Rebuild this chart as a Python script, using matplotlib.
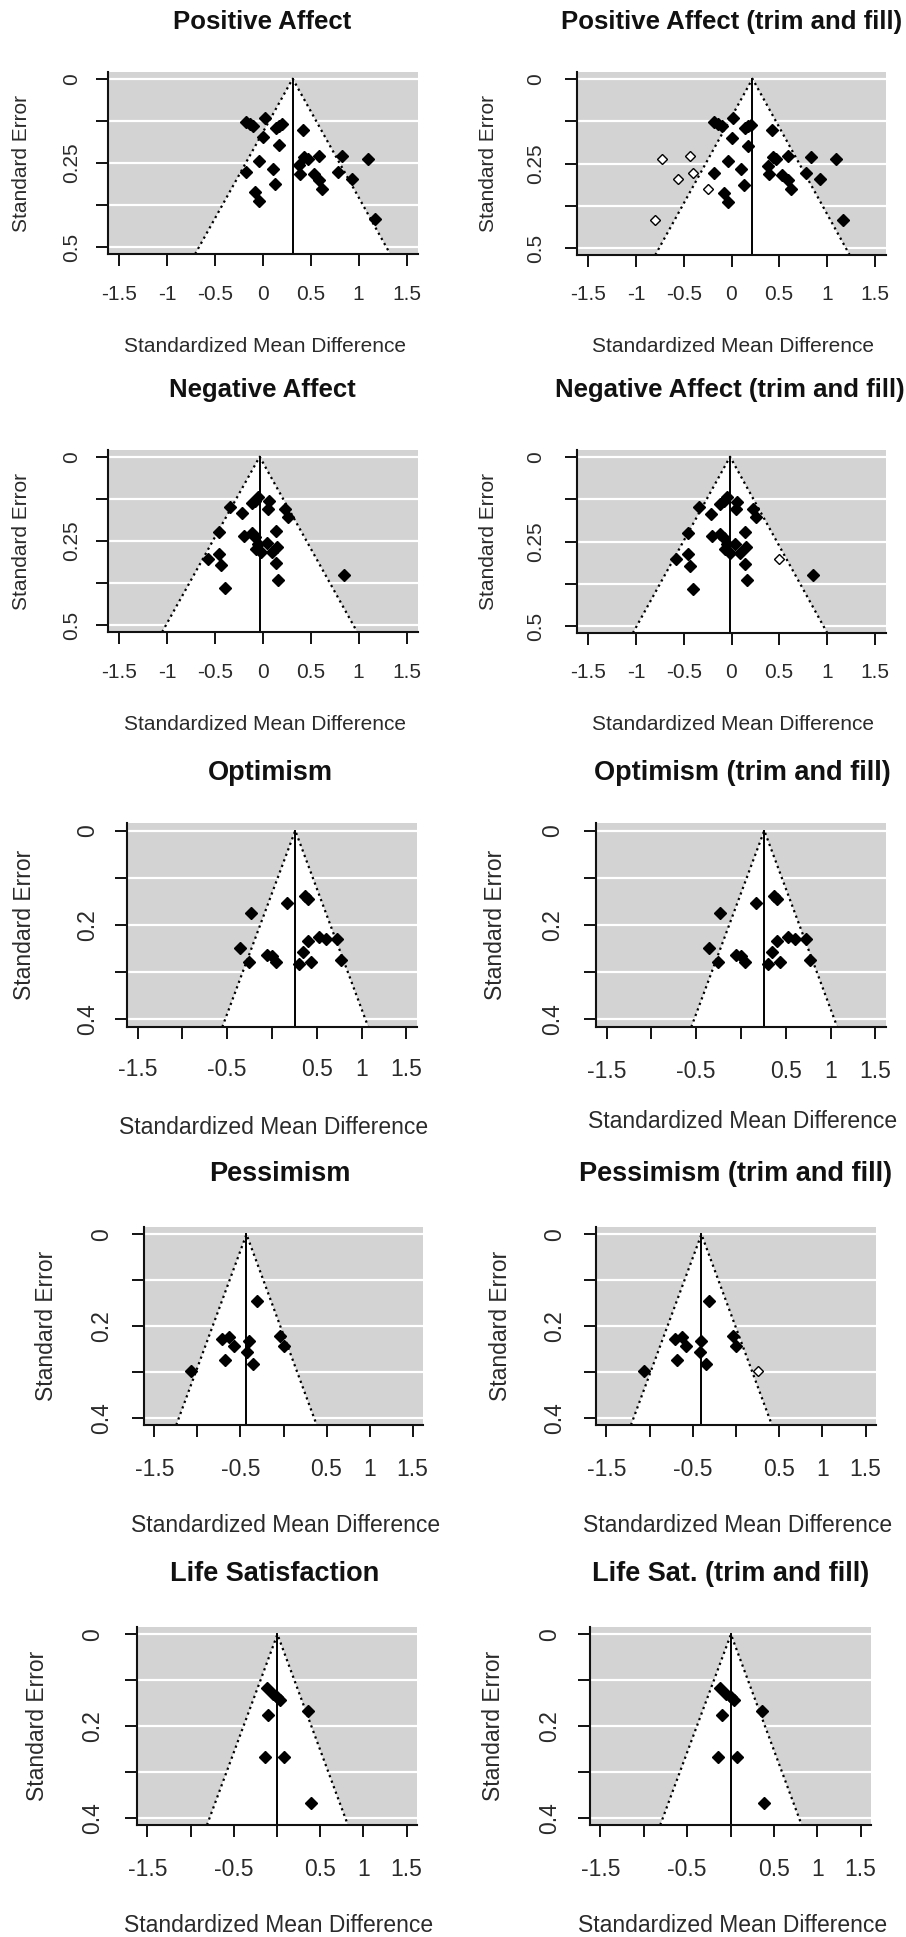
import matplotlib
matplotlib.use('Agg')
import matplotlib.pyplot as plt
import numpy as np

plt.rcParams['font.family'] = ['Liberation Sans', 'DejaVu Sans']

W, H = 906, 1937
DPI = 100
PT = 72.0 / DPI   # points per pixel

# ---- data (SMD, standard error) ----
# Positive Affect
pa_smd = [-0.18, -0.14, -0.10, 0.02, 0.00, 0.14, 0.17, 0.20, 0.17, -0.04,
          -0.18, 0.10, 0.13, -0.08, -0.04, 0.42, 0.43, 0.47, 0.38, 0.39,
          0.53, 0.59, 0.59, 0.62, 0.78, 0.83, 0.93, 1.10, 1.17]
pa_se = [0.127, 0.134, 0.139, 0.116, 0.174, 0.146, 0.139, 0.135, 0.198, 0.243,
         0.278, 0.267, 0.313, 0.337, 0.364, 0.151, 0.232, 0.238, 0.257, 0.282,
         0.284, 0.228, 0.300, 0.326, 0.277, 0.230, 0.297, 0.238, 0.417]
pa_est = 0.31
pa_tf_est = 0.22
pa_fill_smd = [-0.73, -0.44, -0.56, -0.40, -0.25, -0.80]
pa_fill_se = [0.238, 0.228, 0.297, 0.277, 0.326, 0.417]

# Negative Affect
na_smd = [-0.05, -0.08, -0.12, -0.34, -0.22, 0.06, 0.05, 0.23, 0.26, -0.46,
          -0.20, -0.12, -0.08, -0.05, 0.04, -0.07, -0.02, 0.14, 0.15, 0.09,
          -0.46, -0.58, -0.44, 0.14, 0.16, -0.40, 0.85]
na_se = [0.120, 0.130, 0.138, 0.148, 0.168, 0.132, 0.155, 0.155, 0.178, 0.224,
         0.234, 0.227, 0.239, 0.258, 0.256, 0.273, 0.283, 0.221, 0.267, 0.283,
         0.288, 0.303, 0.321, 0.316, 0.365, 0.389, 0.350]
na_est = -0.035
na_tf_est = -0.015
na_fill_smd = [0.50]
na_fill_se = [0.303]

# Optimism
op_smd = [-0.24, -0.36, -0.26, -0.06, 0.00, 0.05, 0.17, 0.37, 0.40, 0.30,
          0.35, 0.40, 0.44, 0.53, 0.60, 0.73, 0.77]
op_se = [0.175, 0.249, 0.279, 0.264, 0.266, 0.279, 0.154, 0.138, 0.145, 0.282,
         0.257, 0.234, 0.279, 0.225, 0.229, 0.229, 0.275]
op_est = 0.26
op_tf_est = 0.26

# Pessimism
pe_smd = [-0.31, -1.07, -0.71, -0.63, -0.58, -0.68, -0.40, -0.42, -0.35, -0.04, 0.00]
pe_se = [0.145, 0.298, 0.229, 0.224, 0.244, 0.275, 0.233, 0.257, 0.282, 0.222, 0.244]
pe_est = -0.43
pe_tf_est = -0.40
pe_fill_smd = [0.26]
pe_fill_se = [0.298]

# Life Satisfaction
ls_smd = [-0.12, -0.05, 0.00, 0.04, -0.10, 0.36, -0.14, 0.08, 0.39]
ls_se = [0.117, 0.130, 0.137, 0.144, 0.175, 0.168, 0.268, 0.268, 0.369]
ls_est = 0.005
ls_tf_est = 0.005

x_ticks = [-1.5, -1, -0.5, 0, 0.5, 1, 1.5]
x_labels_full = ['-1.5', '-1', '-0.5', '0', '0.5', '1', '1.5']
x_labels_thin = ['-1.5', '', '-0.5', '', '0.5', '1', '1.5']
y_labels_05 = ['0', '', '0.25', '', '0.5']
y_labels_04 = ['0', '', '0.2', '', '0.4']

fig = plt.figure(figsize=(W / DPI, H / DPI), dpi=DPI)
fig.patch.set_facecolor('white')

TICKLEN = 12  # px
TXT = '#2a2a2a'


def fx(px):
    return px / W


def fy(py):
    return 1 - py / H


def funnel(box, title, title_xy, smd, se, est, ymax, ylabels, xlabels,
           ytick_x, ylabel_x, xtick_y, xlabel_y, fs, tfs,
           fill_smd=None, fill_se=None):
    l, t, r, b = box
    ax = fig.add_axes([fx(l), fy(b), (r - l) / W, (b - t) / H])
    ax.set_facecolor('#d3d3d3')
    ax.set_xlim(-1.62, 1.62)
    ylo = ymax * 1.04
    ax.set_ylim(ylo, -ymax * 0.04)
    yt = np.linspace(0, ymax, 5)
    for y in yt:
        ax.axhline(y, color='white', lw=1.6, zorder=0.5)
    fx_pts = [est - 1.96 * ylo, est, est + 1.96 * ylo]
    fy_pts = [ylo, 0, ylo]
    ax.fill(fx_pts, fy_pts, color='white', lw=0, zorder=1)
    ax.plot(fx_pts, fy_pts, ls=':', color='black', lw=1.6, zorder=2)
    ax.plot([est, est], [0, ylo], color='black', lw=1.4, zorder=2)
    ax.plot(smd, se, 'D', color='black', ms=6.2, zorder=3)
    if fill_smd is not None:
        ax.plot(fill_smd, fill_se, 'D', mfc='white', mec='black', ms=4.8,
                mew=1.0, zorder=3)

    for s in ['top', 'right']:
        ax.spines[s].set_visible(False)
    for s in ['left', 'bottom']:
        ax.spines[s].set_linewidth(1.5)
        ax.spines[s].set_color('#111111')

    ax.set_xticks(x_ticks)
    ax.set_xticklabels(xlabels, va='center', fontsize=fs, color=TXT)
    ax.set_yticks(yt)
    ax.set_yticklabels(ylabels, rotation=90, ha='center', va='center',
                       fontsize=fs, color=TXT)
    ax.tick_params(axis='both', direction='out', length=TICKLEN * PT,
                   width=1.4, color='#111111')
    ax.tick_params(axis='y', pad=(l - TICKLEN - ytick_x) * PT)
    ax.tick_params(axis='x', pad=(xtick_y - b - TICKLEN) * PT)

    fig.text(fx(title_xy[0]), fy(title_xy[1]), title, ha='center', va='center',
             fontsize=tfs, fontweight='bold', color='#111111')
    fig.text(fx(ylabel_x), fy((t + b) / 2), 'Standard Error', rotation=90,
             ha='center', va='center', fontsize=fs, color=TXT)
    fig.text(fx((l + r) / 2 + 2), fy(xlabel_y), 'Standardized Mean Difference',
             ha='center', va='center', fontsize=fs, color=TXT)
    return ax


# row 1
funnel((108, 72, 418, 254), 'Positive Affect', (262, 22), pa_smd, pa_se, pa_est,
       0.5, y_labels_05, x_labels_full, 72, 22, 295, 347, 15, 18.5)
funnel((577, 72, 886, 255), 'Positive Affect (trim and fill)', (732, 22),
       pa_smd, pa_se, pa_tf_est, 0.5, y_labels_05, x_labels_full,
       536, 488, 295, 347, 15, 18.5, pa_fill_smd, pa_fill_se)
# row 2
funnel((108, 450, 418, 632), 'Negative Affect', (262, 390), na_smd, na_se, na_est,
       0.5, y_labels_05, x_labels_full, 72, 22, 673, 725, 15, 18.5)
funnel((577, 450, 886, 633), 'Negative Affect (trim and fill)', (730, 390),
       na_smd, na_se, na_tf_est, 0.5, y_labels_05, x_labels_full,
       536, 488, 673, 725, 15, 18.5, na_fill_smd, na_fill_se)
# row 3
funnel((127, 823, 417, 1027), 'Optimism', (270, 773), op_smd, op_se, op_est,
       0.4, y_labels_04, x_labels_thin, 88, 25, 1070, 1128, 16.5, 19.5)
funnel((596, 823, 886, 1027), 'Optimism (trim and fill)', (742, 773),
       op_smd, op_se, op_tf_est, 0.4, y_labels_04, x_labels_thin,
       553, 495, 1071, 1121, 16.5, 19.5)
# row 4
funnel((144, 1227, 423, 1425), 'Pessimism', (280, 1174), pe_smd, pe_se, pe_est,
       0.4, y_labels_04, x_labels_thin, 102, 47, 1470, 1525, 16.5, 19.5)
funnel((596, 1227, 876, 1425), 'Pessimism (trim and fill)', (736, 1174),
       pe_smd, pe_se, pe_tf_est, 0.4, y_labels_04, x_labels_thin,
       555, 500, 1470, 1525, 16.5, 19.5, pe_fill_smd, pe_fill_se)
# row 5
funnel((137, 1627, 417, 1825), 'Life Satisfaction', (275, 1574), ls_smd, ls_se,
       ls_est, 0.4, y_labels_04, x_labels_thin, 93, 38, 1870, 1925, 16.5, 19.5)
funnel((590, 1627, 871, 1825), 'Life Sat. (trim and fill)', (731, 1574),
       ls_smd, ls_se, ls_tf_est, 0.4, y_labels_04, x_labels_thin,
       550, 493, 1870, 1925, 16.5, 19.5)

fig.savefig('out.png', dpi=DPI)
